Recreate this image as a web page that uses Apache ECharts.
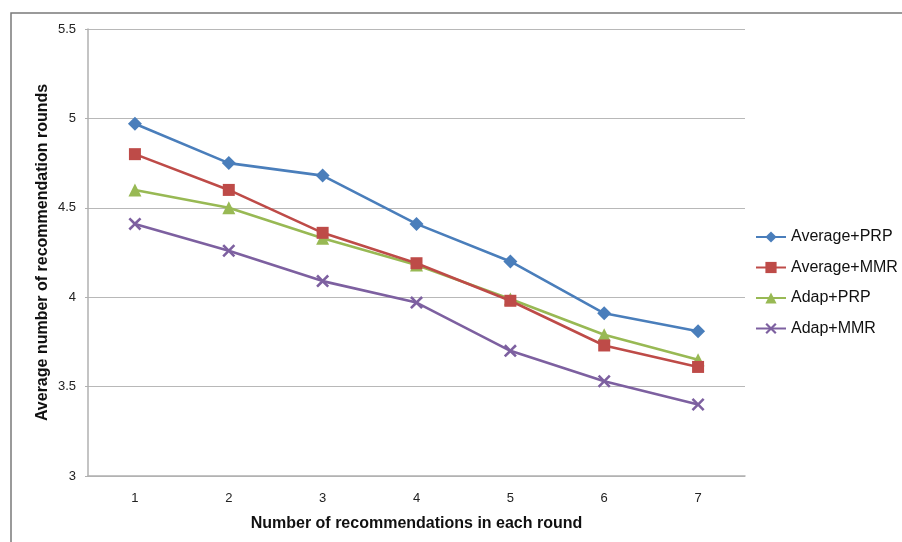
<!DOCTYPE html>
<html><head><meta charset="utf-8">
<script src="https://cdn.jsdelivr.net/npm/echarts@6/dist/echarts.min.js"></script>
<style>html,body{margin:0;padding:0;background:#fff}#c{width:902px;height:542px}</style>
</head><body><div id="c"></div>
<script>
const categories = ['1','2','3','4','5','6','7'];
const seriesNames = ['Average+PRP','Average+MMR','Adap+PRP','Adap+MMR'];
const averagePRP = [4.97, 4.75, 4.68, 4.41, 4.20, 3.91, 3.81];
const averageMMR = [4.80, 4.60, 4.36, 4.19, 3.98, 3.73, 3.61];
const adapPRP    = [4.60, 4.50, 4.33, 4.18, 3.99, 3.79, 3.65];
const adapMMR    = [4.41, 4.26, 4.09, 3.97, 3.70, 3.53, 3.40];
const yTicks = [3, 3.5, 4, 4.5, 5, 5.5];

const colors = ['#4a7ebb','#be4b48','#98b954','#7d60a0'];
const crossPath = 'path://M0,1.4L1.4,0L5,3.6L8.6,0L10,1.4L6.4,5L10,8.6L8.6,10L5,6.4L1.4,10L0,8.6L3.6,5Z';
const symbols = ['diamond','rect','triangle',crossPath];
const symbolSizes = [14,12,13,13];
const datas = [averagePRP, averageMMR, adapPRP, adapMMR];
const font = 'Liberation Sans, sans-serif';

const chart = echarts.init(document.getElementById('c'));
chart.setOption({
  animation:false,
  backgroundColor:'#fff',
  graphic:[{type:'rect',shape:{x:11,y:13,width:900,height:540},style:{fill:'none',stroke:'#7a7a7a',lineWidth:1.5},silent:true}],
  grid:{left:88,top:29,width:657,height:447,containLabel:false},
  legend:{
    orient:'vertical', left:750, top:224, itemWidth:30, itemHeight:14, itemGap:14.5,
    data:seriesNames,
    textStyle:{fontFamily:font,fontSize:16,color:'#111'}
  },
  xAxis:{
    type:'category', data:categories, boundaryGap:true,
    axisLine:{lineStyle:{color:'#b0b0b0',width:1.5}},
    axisTick:{show:false},
    axisLabel:{fontFamily:font,fontSize:13,color:'#222',margin:16},
    name:'Number of recommendations in each round', nameLocation:'middle', nameGap:40,
    nameMoveOverlap:false,
    nameTextStyle:{fontFamily:font,fontSize:16,fontWeight:'bold',color:'#111'}
  },
  yAxis:{
    type:'value', min:3, max:5.5, interval:0.5,
    axisLine:{show:true,lineStyle:{color:'#b0b0b0',width:1.5}},
    axisTick:{show:true,length:3,lineStyle:{color:'#b0b0b0'}},
    splitLine:{lineStyle:{color:'#b8b8b8',width:1.2}},
    axisLabel:{fontFamily:font,fontSize:13,color:'#222',margin:12,
      formatter:v=>{const t=yTicks.find(x=>Math.abs(x-v)<1e-9);return t===undefined?'':String(t);}},
    name:'Average number of recommendation rounds', nameLocation:'middle', nameGap:37, nameRotate:90,
    nameMoveOverlap:false,
    nameTextStyle:{fontFamily:font,fontSize:16,fontWeight:'bold',color:'#111'}
  },
  series: seriesNames.map((n,i)=>({
    name:n, type:'line', data:datas[i],
    symbol:symbols[i], symbolSize:symbolSizes[i], showAllSymbol:true,
    itemStyle:{color:colors[i]},
    lineStyle:{color:colors[i],width:2.6},
    z:10-i
  }))
});
</script></body></html>
